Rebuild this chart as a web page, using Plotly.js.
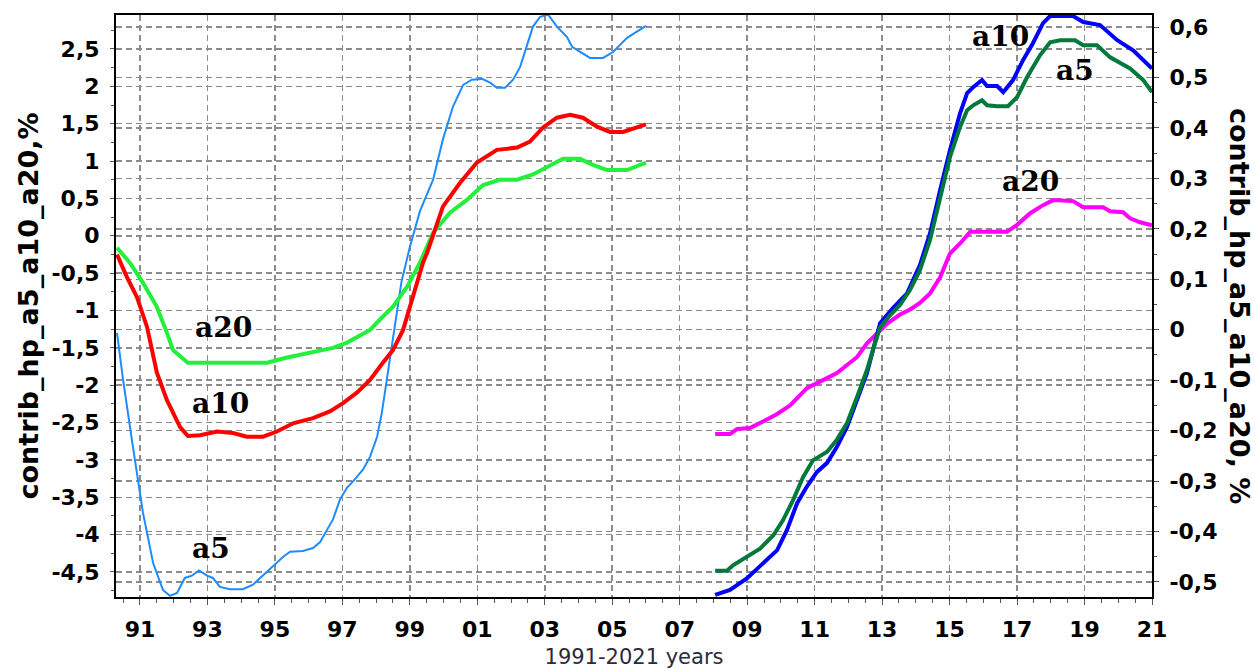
<!DOCTYPE html>
<html>
<head>
<meta charset="utf-8">
<script src="https://cdn.plot.ly/plotly-3.0.1.min.js"></script>
<style>
  html, body { margin: 0; padding: 0; background: white; }
  #chart { width: 1255px; height: 669px; }
</style>
</head>
<body>
<div id="chart"></div>
<script>
// 1990-2006, left axis
var a5Years = [1990.32, 1990.50, 1990.79, 1991.09, 1991.39, 1991.68, 1991.89, 1992.10, 1992.33, 1992.54,
    1992.75, 1992.99, 1993.16, 1993.37, 1993.67, 1994.05, 1994.35, 1994.77, 1995.06, 1995.24,
    1995.45, 1995.83, 1996.13, 1996.34, 1996.54, 1996.72, 1996.93, 1997.14, 1997.31, 1997.61,
    1997.82, 1998.03, 1998.17, 1998.32, 1998.47, 1998.62, 1998.75, 1999.00, 1999.30, 1999.69,
    1999.98, 2000.28, 2000.58, 2000.84, 2001.14, 2001.38, 2001.58, 2001.82, 2002.06, 2002.27,
    2002.47, 2002.65, 2002.86, 2003.10, 2003.36, 2003.66, 2003.81, 2004.10, 2004.34, 2004.73,
    2005.02, 2005.44, 2005.73, 2006.00];
var a5Left = [-1.30, -1.93, -2.82, -3.71, -4.38, -4.74, -4.82, -4.78, -4.58, -4.55,
    -4.48, -4.55, -4.58, -4.70, -4.73, -4.73, -4.67, -4.50, -4.38, -4.30,
    -4.23, -4.22, -4.18, -4.10, -3.94, -3.80, -3.53, -3.37, -3.29, -3.13,
    -2.96, -2.69, -2.37, -1.93, -1.50, -1.05, -0.62, -0.15, 0.33, 0.75,
    1.29, 1.73, 2.02, 2.09, 2.10, 2.05, 1.98, 1.98, 2.09, 2.26,
    2.53, 2.80, 2.93, 2.96, 2.80, 2.66, 2.53, 2.45, 2.38, 2.38,
    2.46, 2.65, 2.73, 2.81];

var a10Years = [1990.32, 1990.61, 1990.91, 1991.21, 1991.50, 1991.80, 1992.19, 1992.42, 1992.78, 1993.28,
    1993.76, 1994.17, 1994.65, 1995.06, 1995.54, 1996.13, 1996.63, 1997.02, 1997.43, 1997.82,
    1998.20, 1998.50, 1998.80, 1999.09, 1999.39, 1999.51, 1999.98, 2000.49, 2000.99, 2001.58,
    2002.18, 2002.56, 2002.95, 2003.36, 2003.75, 2004.13, 2004.55, 2004.93, 2005.32, 2005.73,
    2006.00];
var a10Left = [-0.25, -0.55, -0.82, -1.22, -1.83, -2.20, -2.56, -2.68, -2.67, -2.62,
    -2.64, -2.69, -2.69, -2.62, -2.51, -2.44, -2.35, -2.24, -2.10, -1.93,
    -1.70, -1.53, -1.26, -0.80, -0.36, -0.23, 0.39, 0.71, 0.98, 1.15,
    1.18, 1.26, 1.45, 1.58, 1.62, 1.58, 1.46, 1.39, 1.39, 1.45,
    1.49];

var a20Years = [1990.32, 1990.70, 1991.09, 1991.50, 1991.80, 1991.98, 1992.42, 1992.99, 1993.96, 1994.77,
    1995.36, 1996.04, 1996.72, 1997.14, 1997.52, 1997.82, 1998.12, 1998.50, 1998.92, 1999.30,
    1999.69, 2000.19, 2000.69, 2001.17, 2001.67, 2002.18, 2002.65, 2003.07, 2003.54, 2004.04,
    2004.43, 2004.85, 2005.44, 2006.00];
var a20Left = [-0.16, -0.36, -0.63, -0.95, -1.30, -1.53, -1.70, -1.70, -1.70, -1.70,
    -1.63, -1.57, -1.50, -1.43, -1.33, -1.26, -1.12, -0.95, -0.68, -0.36,
    0.04, 0.31, 0.48, 0.68, 0.75, 0.75, 0.82, 0.92, 1.03, 1.03,
    0.95, 0.88, 0.88, 0.98];

// 2008-2021, right axis
var a10RYears = [2008.05, 2008.49, 2008.99, 2009.47, 2009.89, 2010.18, 2010.48, 2010.77, 2011.07, 2011.37,
    2011.66, 2011.96, 2012.26, 2012.55, 2012.73, 2012.94, 2013.32, 2013.74, 2014.12, 2014.42,
    2014.72, 2015.01, 2015.31, 2015.52, 2015.70, 2015.96, 2016.11, 2016.41, 2016.59, 2016.88,
    2017.18, 2017.47, 2017.77, 2017.98, 2018.66, 2018.96, 2019.46, 2019.97, 2020.44, 2021.00];
var a10Right = [-0.526, -0.516, -0.493, -0.463, -0.437, -0.397, -0.344, -0.311, -0.282, -0.264,
    -0.232, -0.193, -0.139, -0.086, -0.040, 0.013, 0.043, 0.072, 0.128, 0.191,
    0.277, 0.356, 0.429, 0.469, 0.481, 0.495, 0.483, 0.483, 0.471, 0.495,
    0.535, 0.568, 0.608, 0.622, 0.622, 0.610, 0.604, 0.574, 0.554, 0.518];

var a5RYears = [2008.05, 2008.40, 2008.58, 2008.99, 2009.38, 2009.77, 2010.06, 2010.36, 2010.66, 2010.95,
    2011.37, 2011.66, 2011.96, 2012.26, 2012.55, 2012.73, 2012.94, 2013.24, 2013.53, 2013.83,
    2014.12, 2014.42, 2014.72, 2015.01, 2015.31, 2015.52, 2015.70, 2015.96, 2016.11, 2016.41,
    2016.73, 2017.00, 2017.30, 2017.68, 2017.98, 2018.28, 2018.72, 2018.96, 2019.37, 2019.76,
    2020.35, 2020.74, 2021.00];
var a5Right = [-0.478, -0.478, -0.467, -0.451, -0.434, -0.408, -0.378, -0.338, -0.292, -0.259,
    -0.242, -0.218, -0.185, -0.133, -0.080, -0.040, 0.005, 0.029, 0.049, 0.079,
    0.118, 0.178, 0.263, 0.342, 0.402, 0.435, 0.445, 0.455, 0.445, 0.443,
    0.443, 0.461, 0.501, 0.544, 0.570, 0.574, 0.574, 0.564, 0.564, 0.540,
    0.518, 0.495, 0.471];

var a20RYears = [2008.05, 2008.49, 2008.70, 2009.08, 2009.47, 2009.89, 2010.27, 2010.77, 2011.07, 2011.37,
    2011.66, 2011.96, 2012.26, 2012.55, 2012.85, 2013.15, 2013.53, 2013.83, 2014.12, 2014.42,
    2014.72, 2015.01, 2015.31, 2015.61, 2016.11, 2016.70, 2017.00, 2017.39, 2017.77, 2018.07,
    2018.66, 2018.96, 2019.55, 2019.76, 2020.14, 2020.35, 2020.65, 2021.00];
var a20Right = [-0.207, -0.207, -0.197, -0.195, -0.182, -0.167, -0.150, -0.116, -0.106, -0.096,
    -0.086, -0.070, -0.054, -0.027, -0.007, 0.012, 0.030, 0.040, 0.053, 0.072,
    0.104, 0.151, 0.171, 0.194, 0.194, 0.194, 0.208, 0.231, 0.247, 0.257,
    0.255, 0.243, 0.243, 0.235, 0.233, 0.221, 0.213, 0.207];

// ticks
var xTickVals = [1991, 1993, 1995, 1997, 1999, 2001, 2003, 2005, 2007, 2009, 2011, 2013, 2015, 2017, 2019, 2021];
var xTickText = ['91', '93', '95', '97', '99', '01', '03', '05', '07', '09', '11', '13', '15', '17', '19', '21'];
var yLeftVals = [2.5, 2, 1.5, 1, 0.5, 0, -0.5, -1, -1.5, -2, -2.5, -3, -3.5, -4, -4.5];
var yLeftText = ['2,5', '2', '1,5', '1', '0,5', '0', '-0,5', '-1', '-1,5', '-2', '-2,5', '-3', '-3,5', '-4', '-4,5'];
var yRightVals = [0.6, 0.5, 0.4, 0.3, 0.2, 0.1, 0, -0.1, -0.2, -0.3, -0.4, -0.5];
var yRightText = ['0,6', '0,5', '0,4', '0,3', '0,2', '0,1', '0', '-0,1', '-0,2', '-0,3', '-0,4', '-0,5'];

var tickFont = {family: 'DejaVu Sans', size: 22, color: 'black', weight: 'bold'};
var labelFont = {family: 'DejaVu Serif', size: 28, color: 'black', weight: 'bold'};
var titleFont = {family: 'DejaVu Sans', size: 27, color: 'black', weight: 'bold'};
var gridColor = '#8c8c8c';

var data = [
    {x: a5Years, y: a5Left, mode: 'lines', line: {color: '#1e8cff', width: 2}, yaxis: 'y'},
    {x: a20Years, y: a20Left, mode: 'lines', line: {color: '#22f03c', width: 4}, yaxis: 'y'},
    {x: a10Years, y: a10Left, mode: 'lines', line: {color: '#ff0000', width: 4}, yaxis: 'y'},
    {x: a20RYears, y: a20Right, mode: 'lines', line: {color: '#ff00ff', width: 4}, yaxis: 'y2'},
    {x: a10RYears, y: a10Right, mode: 'lines', line: {color: '#0000ff', width: 4}, yaxis: 'y2'},
    {x: a5RYears, y: a5Right, mode: 'lines', line: {color: '#007a3a', width: 4}, yaxis: 'y2'}
];

function label(x, y, text) {
    return {xref: 'paper', yref: 'paper', x: x, y: y, xanchor: 'center', yanchor: 'middle',
        text: text, showarrow: false, font: labelFont};
}

var layout = {
    width: 1255,
    height: 669,
    margin: {l: 116, r: 103, t: 15, b: 72},
    showlegend: false,
    paper_bgcolor: 'white',
    plot_bgcolor: 'white',
    xaxis: {
        range: [1990.29, 2021],
        tickvals: xTickVals,
        ticktext: xTickText,
        tickfont: tickFont,
        ticks: 'outside',
        ticklen: 6,
        tickcolor: '#555',
        ticklabelstandoff: 6,
        minor: {dtick: 0.5, tick0: 1991, ticks: 'outside', ticklen: 4, tickcolor: '#555', showgrid: false},
        showgrid: true,
        gridcolor: gridColor,
        griddash: '6px,4px',
        gridwidth: 1.5,
        zeroline: false,
        showline: true,
        linecolor: 'black',
        linewidth: 2,
        mirror: true,
        title: {text: '1991-2021 years', font: {family: 'DejaVu Sans', size: 21, color: '#2b2b3a'}, standoff: 10}
    },
    yaxis: {
        range: [-4.835, 2.955],
        tickvals: yLeftVals,
        ticktext: yLeftText,
        tickfont: tickFont,
        ticks: 'outside',
        ticklen: 4,
        tickcolor: '#555',
        ticklabelstandoff: 6,
        minor: {dtick: 0.25, tick0: 0, ticks: 'outside', ticklen: 3, tickcolor: '#555', showgrid: false},
        showgrid: true,
        gridcolor: gridColor,
        griddash: '6px,4px',
        gridwidth: 1.5,
        zeroline: false,
        showline: true,
        linecolor: 'black',
        linewidth: 2,
        title: {text: 'contrib_hp_a5_a10_a20,%', font: titleFont, standoff: 5}
    },
    yaxis2: {
        overlaying: 'y',
        side: 'right',
        range: [-0.530, 0.624],
        tickvals: yRightVals,
        ticktext: yRightText,
        tickfont: tickFont,
        ticks: 'outside',
        ticklen: 5,
        tickcolor: '#555',
        ticklabelstandoff: 6,
        minor: {dtick: 0.05, tick0: 0, ticks: 'outside', ticklen: 3, tickcolor: '#555', showgrid: false},
        showgrid: true,
        gridcolor: gridColor,
        griddash: '6px,4px',
        gridwidth: 1.5,
        zeroline: false,
        showline: true,
        linecolor: 'black',
        linewidth: 2
    },
    annotations: [
        {xref: 'paper', yref: 'paper', x: 1.085, y: 0.5, xanchor: 'center', yanchor: 'middle',
            text: 'contrib_hp_a5_a10_a20, %', textangle: 90, showarrow: false, font: titleFont},
        label(0.1033, 0.4639, 'a20'),
        label(0.1004, 0.3333, 'a10'),
        label(0.0917, 0.0825, 'a5'),
        label(0.8542, 0.9639, 'a10'),
        label(0.9257, 0.9038, 'a5'),
        label(0.8832, 0.7131, 'a20')
    ]
};

Plotly.newPlot('chart', data, layout, {displayModeBar: false, staticPlot: true});
</script>
</body>
</html>
